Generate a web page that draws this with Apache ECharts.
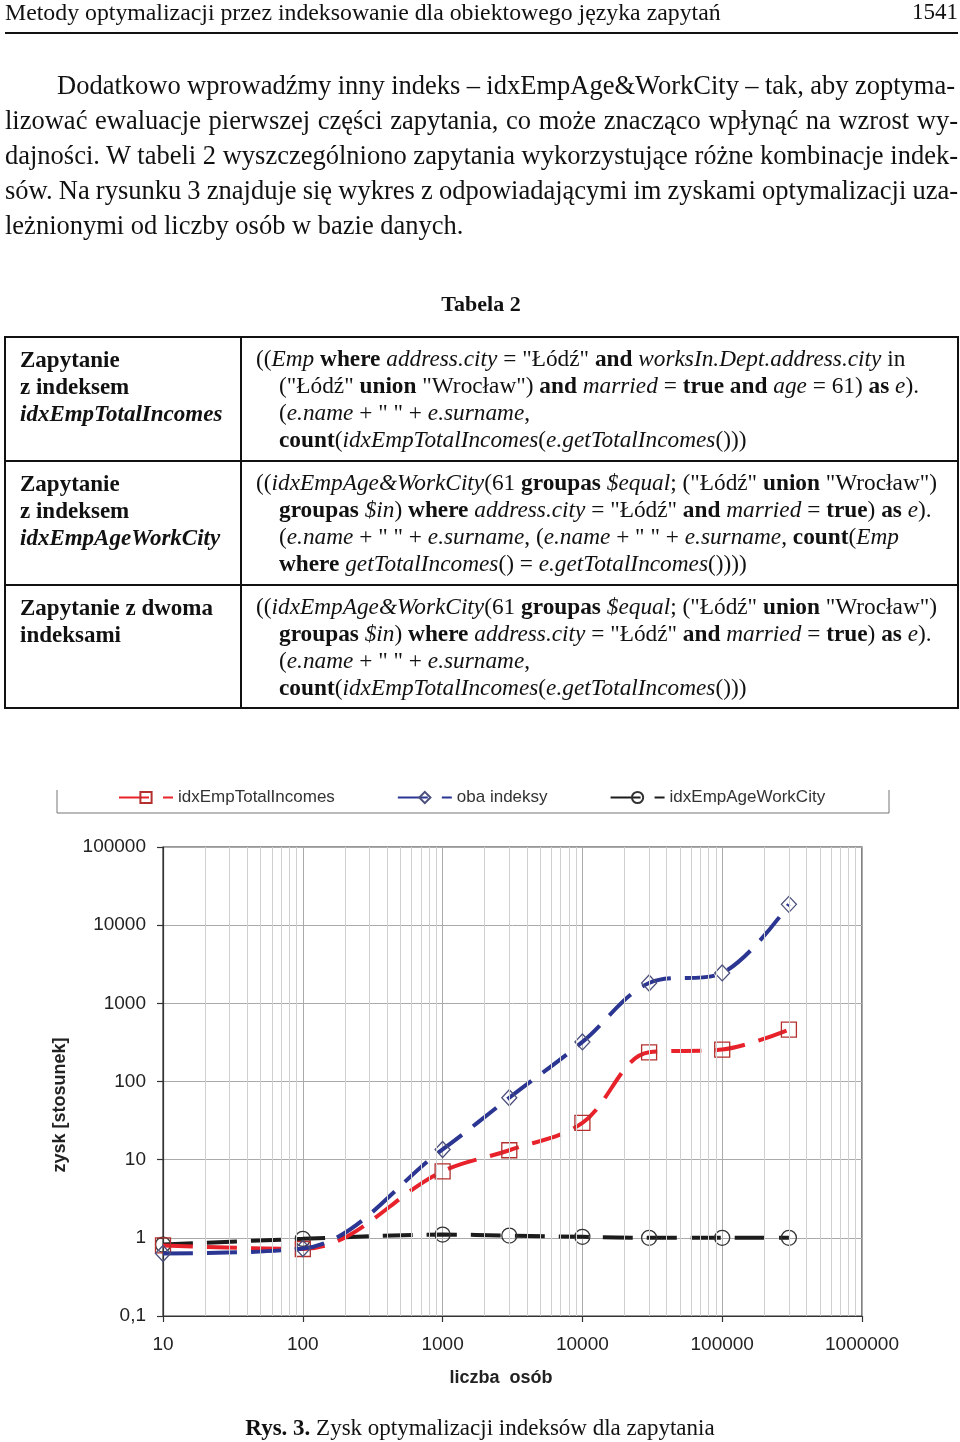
<!DOCTYPE html>
<html>
<head>
<meta charset="utf-8">
<script src="https://cdn.jsdelivr.net/npm/echarts@6.0.0/dist/echarts.min.js"></script>
<style>
  html, body { margin:0; padding:0; background:#fff; }
  body { width:960px; height:1442px; position:relative; overflow:hidden; color:#111; font-family:"Liberation Serif","Times New Roman",serif; }
  #chart { position:absolute; left:0; top:0; width:960px; height:1442px; }
  .abs { position:absolute; white-space:nowrap; }
  .para { font-size:26.5px; line-height:35px; left:5px; }
  .cellL { font-size:23px; line-height:27px; font-weight:bold; left:20px; }
  .cellR { font-size:23.3px; line-height:27px; left:256px; }
  .hl { position:absolute; background:#111; }
</style>
</head>
<body>
<div id="chart"></div>

<div class="abs" style="left:5px; top:0px; font-size:23.8px; line-height:24px;"><span>Metody optymalizacji przez indeksowanie dla obiektowego języka zapytań</span></div>
<div class="abs" style="left:890px; width:68px; text-align:right; top:0px; font-size:23px; line-height:24px;">1541</div>
<div class="hl" style="left:5px; top:32px; width:953px; height:2px;"></div>

<div class="abs para fit" data-w="898" style="left:57px; top:68px;"><span>Dodatkowo wprowadźmy inny indeks – idxEmpAge&amp;WorkCity – tak, aby zoptyma-</span></div>
<div class="abs para fit" data-w="953" style="top:103px;"><span>lizować ewaluacje pierwszej części zapytania, co może znacząco wpłynąć na wzrost wy-</span></div>
<div class="abs para fit" data-w="953" style="top:138px;"><span>dajności. W tabeli 2 wyszczególniono zapytania wykorzystujące różne kombinacje indek-</span></div>
<div class="abs para fit" data-w="953" style="top:173px;"><span>sów. Na rysunku 3 znajduje się wykres z odpowiadającymi im zyskami optymalizacji uza-</span></div>
<div class="abs para" style="top:208px;"><span>leżnionymi od liczby osób w bazie danych.</span></div>

<div class="abs" style="left:381px; width:200px; text-align:center; top:292px; font-size:22px; line-height:24px; font-weight:bold;">Tabela 2</div>

<!-- table borders -->
<div class="hl" style="left:4px; top:336px; width:955px; height:2px;"></div>
<div class="hl" style="left:4px; top:460px; width:955px; height:2px;"></div>
<div class="hl" style="left:4px; top:584px; width:955px; height:2px;"></div>
<div class="hl" style="left:4px; top:707px; width:955px; height:2px;"></div>
<div class="hl" style="left:4px; top:336px; width:2px; height:373px;"></div>
<div class="hl" style="left:240px; top:336px; width:2px; height:373px;"></div>
<div class="hl" style="left:957px; top:336px; width:2px; height:373px;"></div>

<div class="abs cellL" style="top:346px;">Zapytanie<br>z indeksem<br><i>idxEmpTotalIncomes</i></div>
<div class="abs cellL" style="top:470px;">Zapytanie<br>z indeksem<br><i>idxEmpAgeWorkCity</i></div>
<div class="abs cellL" style="top:594px;">Zapytanie z dwoma<br>indeksami</div>

<div class="abs cellR" style="top:345px;">
<div>((<i>Emp</i> <b>where</b> <i>address.city</i> = "Łódź" <b>and</b> <i>worksIn.Dept.address.city</i> in</div>
<div style="padding-left:23px;">("Łódź" <b>union</b> "Wrocław") <b>and</b> <i>married</i> = <b>true and</b> <i>age</i> = 61) <b>as</b> <i>e</i>).</div>
<div style="padding-left:23px;">(<i>e.name</i> + " " + <i>e.surname</i>,</div>
<div style="padding-left:23px;"><b>count</b>(<i>idxEmpTotalIncomes</i>(<i>e.getTotalIncomes</i>()))</div>
</div>
<div class="abs cellR" style="top:469px;">
<div>((<i>idxEmpAge&amp;WorkCity</i>(61 <b>groupas</b> <i>$equal</i>; ("Łódź" <b>union</b> "Wrocław")</div>
<div style="padding-left:23px;"><b>groupas</b> <i>$in</i>) <b>where</b> <i>address.city</i> = "Łódź" <b>and</b> <i>married</i> = <b>true</b>) <b>as</b> <i>e</i>).</div>
<div style="padding-left:23px;">(<i>e.name</i> + " " + <i>e.surname</i>, (<i>e.name</i> + " " + <i>e.surname</i>, <b>count</b>(<i>Emp</i></div>
<div style="padding-left:23px;"><b>where</b> <i>getTotalIncomes</i>() = <i>e.getTotalIncomes</i>())))</div>
</div>
<div class="abs cellR" style="top:593px;">
<div>((<i>idxEmpAge&amp;WorkCity</i>(61 <b>groupas</b> <i>$equal</i>; ("Łódź" <b>union</b> "Wrocław")</div>
<div style="padding-left:23px;"><b>groupas</b> <i>$in</i>) <b>where</b> <i>address.city</i> = "Łódź" <b>and</b> <i>married</i> = <b>true</b>) <b>as</b> <i>e</i>).</div>
<div style="padding-left:23px;">(<i>e.name</i> + " " + <i>e.surname</i>,</div>
<div style="padding-left:23px;"><b>count</b>(<i>idxEmpTotalIncomes</i>(<i>e.getTotalIncomes</i>()))</div>
</div>

<div class="abs" style="left:180px; width:600px; text-align:center; top:1415px; font-size:23px; line-height:26px;"><b>Rys. 3.</b> Zysk optymalizacji indeksów dla zapytania</div>

<script>
// ---- data ----
const peopleCounts = [10, 100, 1000, 3000, 10000, 30000, 100000, 300000];
const seriesNames = ['idxEmpTotalIncomes', 'oba indeksy', 'idxEmpAgeWorkCity'];
const gainEmpTotalIncomes = [0.8, 0.72, 7.1, 13.2, 29.5, 236, 256, 461];
const gainBothIndexes    = [0.63, 0.73, 13.5, 62, 321, 1820, 2450, 18450];
const gainEmpAgeWorkCity = [0.82, 0.97, 1.1, 1.07, 1.03, 1.0, 1.0, 1.0];
const xAxisTicks = [10, 100, 1000, 10000, 100000, 1000000];
const yAxisTicks = [0.1, 1, 10, 100, 1000, 10000, 100000];
const minorGridMultipliers = [2, 3, 4, 5, 6, 7, 8, 9];
const minorGridDecades = [10, 100, 1000, 10000, 100000];

// fit justified lines via word spacing
document.querySelectorAll('.fit').forEach(el => {
  const span = el.querySelector('span');
  const target = +el.dataset.w;
  const nat = span.getBoundingClientRect().width;
  const spaces = (span.textContent.match(/ /g) || []).length;
  if (spaces) span.style.wordSpacing = ((target - nat) / spaces) + 'px';
});

const minorGrid = [];
minorGridDecades.forEach(d => minorGridMultipliers.forEach(m => minorGrid.push(d * m)));

const pairs = vals => peopleCounts.map((x, i) => [x, vals[i]]);
const SANS = '"Liberation Sans", Arial, sans-serif';
const DASH = [30, 14];
const plainNum = v => String(Number(Number(v).toPrecision(6))).replace('.', ',');

const chart = echarts.init(document.getElementById('chart'), null, { renderer: 'canvas' });
chart.setOption({
  animation: false,
  backgroundColor: 'transparent',
  grid: { left: 163, right: 98, top: 847, bottom: 126, show: true, borderColor: '#333', borderWidth: 1.2, backgroundColor: 'transparent', containLabel: false, outerBoundsMode: 'none' },
  legend: {
    data: seriesNames, left: 118, top: 789, padding: 0, itemGap: 62, itemWidth: 54, itemHeight: 14,
    textStyle: { fontSize: 17, color: '#333', fontFamily: SANS }
  },
  graphic: [
    { type: 'polyline', shape: { points: [[57, 790], [57, 813], [889, 813], [889, 790]] }, style: { stroke: '#777', lineWidth: 1, fill: null }, silent: true },
    { type: 'text', x: 60, y: 1105, rotation: Math.PI / 2, style: { text: 'zysk [stosunek]', font: 'bold 18px "Liberation Sans", Arial', fill: '#222', textAlign: 'center', textVerticalAlign: 'middle' }, silent: true },
    { type: 'text', x: 501, y: 1378, style: { text: 'liczba  osób', font: 'bold 18px "Liberation Sans", Arial', fill: '#222', textAlign: 'center', textVerticalAlign: 'middle' }, silent: true }
  ],
  xAxis: {
    type: 'log', logBase: 10, min: xAxisTicks[0], max: xAxisTicks[xAxisTicks.length - 1], splitNumber: xAxisTicks.length - 1,
    axisLine: { show: true, onZero: false, lineStyle: { color: '#333', width: 1.2 } },
    axisTick: { show: true, length: 6, lineStyle: { color: '#333', width: 1.2 } },
    axisLabel: { fontSize: 19, color: '#222', fontFamily: SANS, margin: 19, showMinLabel: true, showMaxLabel: true, formatter: plainNum },
    splitLine: { show: true, lineStyle: { color: '#aaa', width: 1 } },
    minorTick: { show: false }, minorSplitLine: { show: false }
  },
  yAxis: {
    type: 'log', logBase: 10, min: yAxisTicks[0], max: yAxisTicks[yAxisTicks.length - 1], splitNumber: yAxisTicks.length - 1,
    axisLine: { show: true, onZero: false, lineStyle: { color: '#333', width: 1.2 } },
    axisTick: { show: true, length: 6, lineStyle: { color: '#333', width: 1.2 } },
    axisLabel: { fontSize: 19, color: '#222', fontFamily: SANS, margin: 17, showMinLabel: true, showMaxLabel: true, formatter: plainNum },
    splitLine: { show: true, lineStyle: { color: '#aaa', width: 1 } }
  },
  series: [
    {
      name: 'minor-grid', type: 'line', data: [], z: 1, silent: true,
      markLine: { silent: true, symbol: 'none', animation: false, label: { show: false },
        lineStyle: { color: '#d0d0d0', type: 'solid', width: 1 },
        emphasis: { disabled: true },
        data: minorGrid.map(v => ({ xAxis: v })) }
    },
    {
      name: seriesNames[0], type: 'line', data: pairs(gainEmpTotalIncomes), smooth: 0.35, z: 3,
      symbol: 'rect', symbolSize: 15,
      lineStyle: { color: '#e8222b', width: 4, type: DASH },
      itemStyle: { color: 'rgba(255,255,255,0)', borderColor: '#b3302f', borderWidth: 1.3 }
    },
    {
      name: seriesNames[1], type: 'line', data: pairs(gainBothIndexes), smooth: 0.35, z: 4,
      symbol: 'diamond', symbolSize: [15, 16],
      lineStyle: { color: '#2b3592', width: 4, type: DASH },
      itemStyle: { color: 'rgba(255,255,255,0)', borderColor: '#4a4f7c', borderWidth: 1.3 }
    },
    {
      name: seriesNames[2], type: 'line', data: pairs(gainEmpAgeWorkCity), smooth: 0.35, z: 2,
      symbol: 'circle', symbolSize: 15,
      lineStyle: { color: '#1c1c1c', width: 4, type: DASH },
      itemStyle: { color: 'rgba(255,255,255,0)', borderColor: '#333', borderWidth: 1.3 }
    }
  ]
});
</script>
</body>
</html>
